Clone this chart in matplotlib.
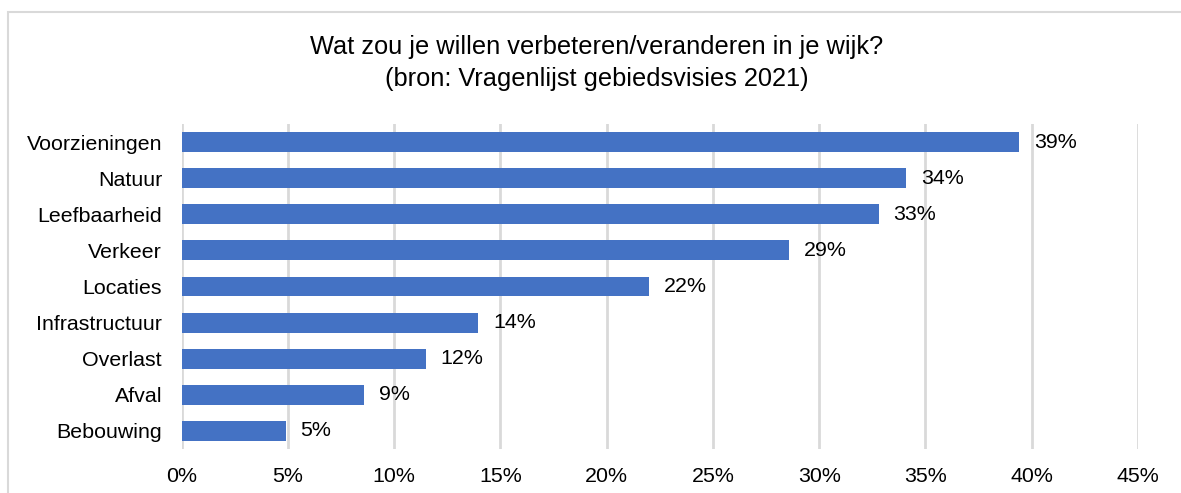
import matplotlib
matplotlib.use("Agg")
import matplotlib.pyplot as plt
from matplotlib.patches import Rectangle

categories = ["Voorzieningen", "Natuur", "Leefbaarheid", "Verkeer", "Locaties",
              "Infrastructuur", "Overlast", "Afval", "Bebouwing"]
values = [39.4, 34.1, 32.8, 28.6, 22.0, 13.95, 11.5, 8.6, 4.9]
xticks = [0, 5, 10, 15, 20, 25, 30, 35, 40, 45]
title = "Wat zou je willen verbeteren/veranderen in je wijk?\n(bron: Vragenlijst gebiedsvisies 2021)"

plt.rcParams['font.family'] = ['Liberation Sans', 'DejaVu Sans']

W, H = 1181, 493
fig = plt.figure(figsize=(W / 100, H / 100), dpi=100)
ax = fig.add_axes([181.5 / W, 1 - 449 / H, (1138 - 181.5) / W, (449 - 124) / H])

ypos = list(range(len(categories)))
ax.barh(ypos, values, height=0.55, color="#4472C4", zorder=3)
ax.set_ylim(len(categories) - 0.5, -0.5)
ax.set_xlim(0, 45)
ax.set_yticks(ypos)
ax.set_yticklabels(categories, fontsize=15.4)
ax.set_xticks(xticks)
ax.set_xticklabels([f"{t}%" for t in xticks], fontsize=15.4)
ax.tick_params(axis='both', length=0, colors='#000000')
ax.tick_params(axis='y', pad=14)
ax.tick_params(axis='x', pad=13)
for s in ax.spines.values():
    s.set_visible(False)
ax.grid(axis='x', color='#D9D9D9', linewidth=2, zorder=0)

for y, v in zip(ypos, values):
    ax.text(v + 0.7, y, f"{v:.0f}%", va='center', ha='left', fontsize=15.4, zorder=4)

fig.text(597 / W, 1 - 63 / H, title, ha='center', va='center', fontsize=18.3,
         linespacing=1.4)

fig.patches.append(Rectangle((8 / W, -0.1), 1.2, 1 - 12 / H + 0.1, transform=fig.transFigure,
                             fill=False, edgecolor='#D9D9D9', linewidth=1.5, zorder=0))

fig.savefig("out.png", dpi=100)
